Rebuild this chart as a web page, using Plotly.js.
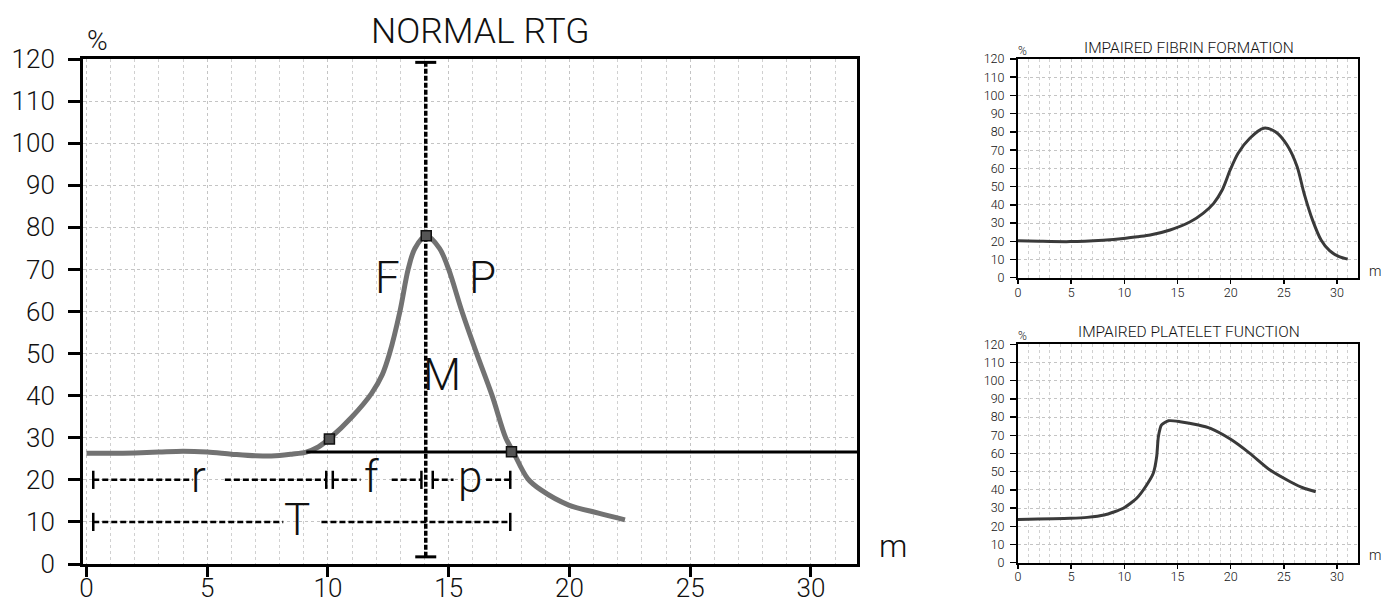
<!DOCTYPE html>
<html>
<head>
<meta charset="utf-8">
<script src="https://cdn.plot.ly/plotly-3.0.1.min.js"></script>
<style>
  html, body { margin: 0; padding: 0; background: #fff; }
  #chart { width: 1381px; height: 605px; }
</style>
</head>
<body>
<div id="chart"></div>
<script>
// ---------- DATA ----------
// Normal RTG curve (minutes, %)
const mainX = [0, 1, 2, 3, 4, 5, 6, 7, 8, 8.5, 9.1, 9.6, 10.1, 11.0, 11.8, 12.25, 12.55, 12.98, 13.32, 13.6, 14.07, 14.62, 15.0, 15.55, 16.16, 16.8, 17.36, 17.65, 18.27, 18.82, 19.97, 21.2, 22.3];
const mainY = [26.3, 26.3, 26.4, 26.6, 26.8, 26.6, 26.1, 25.7, 25.8, 26.1, 26.6, 27.8, 30, 35, 40.5, 45, 50, 60, 70, 75, 78, 75, 70, 60, 50, 40, 30, 26.9, 20.3, 17.6, 14, 12.1, 10.5];
// key points (square markers)
const keyX = [10.06, 14.07, 17.6];
const keyY = [29.7, 78, 26.7];
// baseline level
const baselineX = [9.1, 32];
const baselineY = [26.6, 26.6];
// interval bars r / f / p at 20 %, T at 10 %
const rfpX = [0.28, 4.4, null, 5.73, 9.93, null, 10.2, 11.35, null, 12.64, 13.87, null, 14.34, 15.2, null, 16.55, 17.55];
const rfpLevel = 20;
const rfpCapX = [0.28, 9.93, 10.2, 13.87, 14.34, 17.55];
const tX = [0.28, 8.15, null, 9.73, 17.55];
const tLevel = 10;
const tCapX = [0.28, 17.55];
// M (maximum amplitude) vertical marker
const mX = [14.05, 14.05];
const mY = [1.7, 119.2];
// curve labels
const letterText = ['F', 'P', 'M', 'r', 'f', 'p', 'T'];
const letterX = [12.45, 16.4, 14.72, 4.62, 11.8, 15.9, 8.72];
const letterY = [67.9, 67.9, 44.9, 20.6, 20.6, 20.6, 10.4];

// Impaired fibrin formation
const fibrinX = [0, 2, 4.9, 8.0, 9.9, 11.3, 12.43, 14.3, 16.2, 17.4, 18.4, 19.2, 19.95, 20.7, 21.8, 23.1, 24.2, 25.3, 26.25, 26.9, 27.7, 28.5, 29.3, 30.2, 31.0];
const fibrinY = [20.3, 20.0, 19.8, 20.6, 21.5, 22.5, 23.4, 26.2, 30.7, 35.3, 40.8, 48.1, 59.1, 68.3, 76.5, 82, 80.1, 72.8, 60.9, 46.3, 31.6, 20.7, 14.8, 11.5, 10.2];
// Impaired platelet function
const plateletX = [0, 4.9, 6.5, 8.1, 9.9, 11.16, 12.1, 12.72, 13.04, 13.2, 13.5, 14.15, 15.24, 16.96, 18.1, 20.0, 21.8, 23.7, 25.6, 26.9, 28.0];
const plateletY = [23.8, 24.4, 24.9, 26.2, 29.9, 35.4, 42.7, 49.1, 58.2, 69.2, 75.7, 78, 77.5, 75.7, 73.8, 67.8, 60.1, 50.9, 44.5, 40.9, 39];

// ticks
const xTicks = [0, 5, 10, 15, 20, 25, 30];
const yTicks = [0, 10, 20, 30, 40, 50, 60, 70, 80, 90, 100, 110, 120];

const titleMain = 'NORMAL RTG';
const titleFibrin = 'IMPAIRED FIBRIN FORMATION';
const titlePlatelet = 'IMPAIRED PLATELET FUNCTION';
const yUnit = '%';
const xUnit = 'm';

// ---------- LAYOUT HELPERS ----------
const W = 1381, H = 605;
const px = v => v / W;
const py = v => 1 - v / H;
const FONT = 'Roboto, "Open Sans", "DejaVu Sans", sans-serif';

const traces = [];
traces.push({x: mainX, y: mainY, xaxis: 'x', yaxis: 'y', mode: 'lines', type: 'scatter',
  line: {color: '#727272', width: 5, shape: 'spline', smoothing: 0.9}, hoverinfo: 'skip'});
traces.push({x: baselineX, y: baselineY, xaxis: 'x', yaxis: 'y', mode: 'lines',
  line: {color: '#000', width: 3}, hoverinfo: 'skip'});
traces.push({x: rfpX, y: rfpX.map(v => v === null ? null : rfpLevel), xaxis: 'x', yaxis: 'y', mode: 'lines',
  line: {color: '#000', width: 2.5, dash: '6px,3px'}, connectgaps: false, hoverinfo: 'skip'});
traces.push({x: tX, y: tX.map(v => v === null ? null : tLevel), xaxis: 'x', yaxis: 'y', mode: 'lines',
  line: {color: '#000', width: 2.5, dash: '6px,3px'}, connectgaps: false, hoverinfo: 'skip'});
traces.push({x: rfpCapX, y: rfpCapX.map(() => rfpLevel), xaxis: 'x', yaxis: 'y', mode: 'markers',
  marker: {symbol: 'line-ns', size: 13, line: {color: '#000', width: 2.5}}, hoverinfo: 'skip'});
traces.push({x: tCapX, y: tCapX.map(() => tLevel), xaxis: 'x', yaxis: 'y', mode: 'markers',
  marker: {symbol: 'line-ns', size: 13, line: {color: '#000', width: 2.5}}, hoverinfo: 'skip'});
traces.push({x: mX, y: mY, xaxis: 'x', yaxis: 'y', mode: 'lines',
  line: {color: '#000', width: 3.5, dash: '5px,2px'}, hoverinfo: 'skip'});
traces.push({x: mX, y: mY, xaxis: 'x', yaxis: 'y', mode: 'markers',
  marker: {symbol: 'line-ew', size: 15, line: {color: '#000', width: 3}}, hoverinfo: 'skip'});
traces.push({x: keyX, y: keyY, xaxis: 'x', yaxis: 'y', mode: 'markers',
  marker: {symbol: 'square', size: 10, color: '#555', line: {color: '#111', width: 1.5}}, hoverinfo: 'skip'});
traces.push({x: fibrinX, y: fibrinY, xaxis: 'x2', yaxis: 'y2', mode: 'lines',
  line: {color: '#3a3a3a', width: 3, shape: 'spline', smoothing: 0.8}, hoverinfo: 'skip'});
traces.push({x: plateletX, y: plateletY, xaxis: 'x3', yaxis: 'y3', mode: 'lines',
  line: {color: '#3a3a3a', width: 3, shape: 'spline', smoothing: 0.6}, hoverinfo: 'skip'});

function xAxis(domain, range, big, anchor, standoff) {
  return {
    domain: domain, range: range, anchor: anchor,
    tickmode: 'array', tickvals: xTicks, ticktext: xTicks.map(String),
    ticks: 'outside', ticklen: big ? 10 : 4, tickwidth: big ? 3 : 1.5, tickcolor: '#000',
    showline: true, linecolor: '#000', linewidth: big ? 3 : 2, mirror: true,
    showgrid: true, gridcolor: '#c4c4c4', griddash: 'dot', gridwidth: 1,
    minor: {dtick: 1, tick0: 0, showgrid: true, gridcolor: '#d0d0d0', griddash: 'dot', gridwidth: 1, ticks: ''},
    zeroline: false, fixedrange: true,
    tickfont: {family: FONT, size: big ? 26 : 12.5, color: '#111', weight: 300},
    ticklabelstandoff: standoff
  };
}
function yAxis(domain, big, anchor, standoff) {
  return {
    domain: domain, range: [0, 120], anchor: anchor,
    tickmode: 'array', tickvals: yTicks, ticktext: yTicks.map(String),
    ticks: 'outside', ticklen: big ? 12 : 6, tickwidth: big ? 3 : 1.5, tickcolor: '#000',
    showline: true, linecolor: '#000', linewidth: big ? 3 : 2, mirror: true,
    showgrid: true, gridcolor: '#c4c4c4', griddash: 'dot', gridwidth: 1,
    zeroline: false, fixedrange: true,
    tickfont: {family: FONT, size: big ? 26 : 12.5, color: '#111', weight: 300},
    ticklabelstandoff: standoff
  };
}

const annotations = [];
function paperText(text, x, y, size) {
  annotations.push({text: text, xref: 'paper', yref: 'paper', x: px(x), y: py(y),
    xanchor: 'center', yanchor: 'middle', showarrow: false,
    font: {family: FONT, size: size, color: '#111', weight: 300}});
}
paperText(titleMain, 480, 31, 35.5);
paperText(yUnit, 97, 41, 28);
paperText(xUnit, 893, 546, 32);
paperText(titleFibrin, 1189, 48, 15.5);
paperText(titlePlatelet, 1189, 332, 15.5);
paperText(yUnit, 1022, 51, 12);
paperText(yUnit, 1022, 336, 12);
paperText(xUnit, 1375, 271, 14);
paperText(xUnit, 1375, 555, 14);

letterText.forEach((t, i) => {
  annotations.push({text: t, xref: 'x', yref: 'y', x: letterX[i], y: letterY[i],
    xanchor: 'center', yanchor: 'middle', showarrow: false,
    font: {family: FONT, size: 44, color: '#111', weight: 300}});
});

const layout = {
  width: W, height: H,
  margin: {l: 0, r: 0, t: 0, b: 0},
  paper_bgcolor: '#fff', plot_bgcolor: '#fff',
  showlegend: false,
  xaxis: xAxis([px(83), px(857)], [-0.145, 31.91], true, 'y', -11),
  yaxis: yAxis([py(564), py(59)], true, 'x', 8),
  xaxis2: xAxis([px(1018), px(1358.3)], [0, 32], false, 'y2', -2),
  yaxis2: yAxis([py(277.7), py(59)], false, 'x2', 3),
  xaxis3: xAxis([px(1018), px(1358.3)], [0, 32], false, 'y3', -3),
  yaxis3: yAxis([py(562.7), py(344.3)], false, 'x3', 3),
  annotations: annotations
};

Plotly.newPlot('chart', traces, layout, {staticPlot: true, displayModeBar: false});
</script>
</body>
</html>
